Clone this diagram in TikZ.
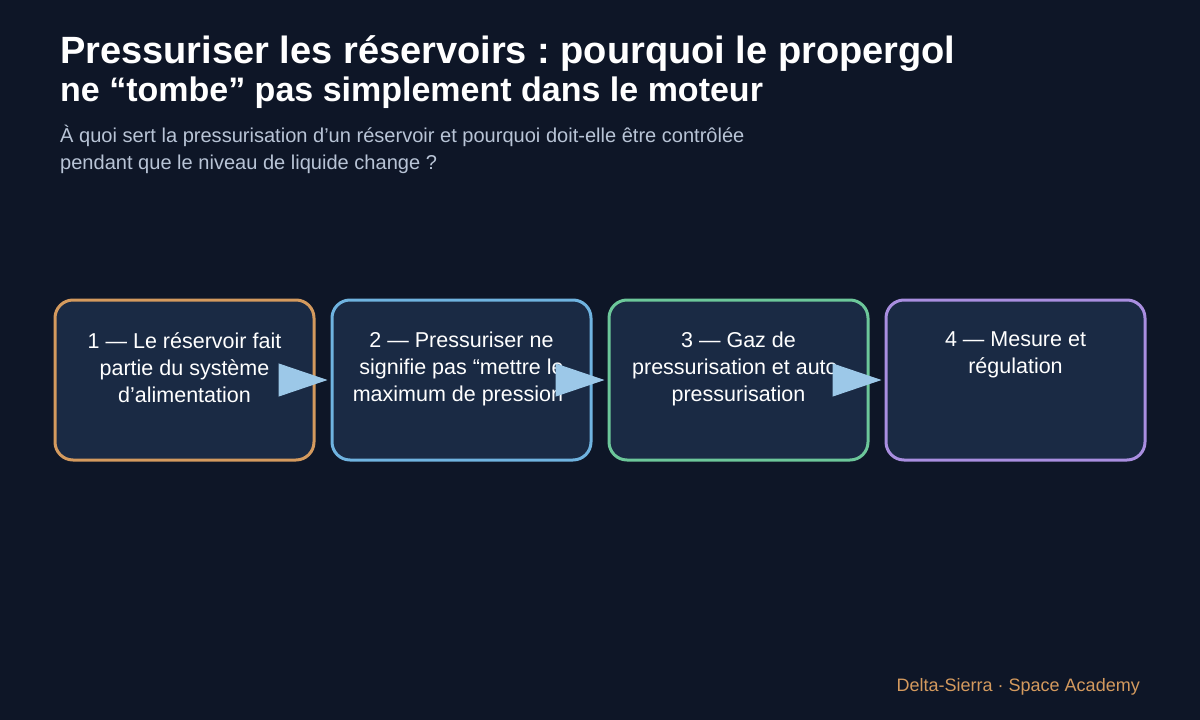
\documentclass[tikz,border=0pt]{standalone}
\usepackage{fontspec}
\setmainfont{Liberation Sans}
\usetikzlibrary{arrows.meta,positioning}
\frenchspacing
\definecolor{bg}{HTML}{0E1627}
\definecolor{boxfill}{HTML}{1A2A44}
\definecolor{cOrange}{HTML}{D49A5E}
\definecolor{cBlue}{HTML}{6FB3E0}
\definecolor{cGreen}{HTML}{6CC79A}
\definecolor{cPurple}{HTML}{A98EE0}
\definecolor{arrowc}{HTML}{9CC8E8}
\definecolor{subc}{HTML}{B8C4D6}
\definecolor{footc}{HTML}{D49A5E}
\tikzset{
  stepbox/.style={draw, line width=3pt, fill=boxfill, rounded corners=18pt,
    minimum width=259pt, minimum height=160pt, inner sep=0pt},
  boxtext/.style={text=white, align=center, font=\fontsize{21.5}{27}\selectfont,
    anchor=north, inner sep=0pt},
  flowarrow/.style={draw=arrowc, line width=1pt,
    -{Triangle[length=49pt,width=33pt,fill=arrowc]}, shorten >=3pt}
}
\begin{document}
\begin{tikzpicture}[x=1pt,y=-1pt]
\fill[bg] (0,0) rectangle (1200,720);
\useasboundingbox (0,0) rectangle (1200,720);
% title
\node[anchor=base west, text=white, inner sep=0pt, font=\bfseries\fontsize{38}{40}\selectfont] (t1) at (60,63) {Pressuriser les réservoirs : pourquoi le propergol};
\node[anchor=base west, text=white, inner sep=0pt, font=\bfseries\fontsize{34}{36}\selectfont] (t2) at (60,101) {ne “tombe” pas simplement dans le moteur};
\node[anchor=base west, text=subc, inner sep=0pt, font=\fontsize{20.05}{24}\selectfont] (s1) at (60,142) {À quoi sert la pressurisation d’un réservoir et pourquoi doit-elle être contrôlée};
\node[anchor=base west, text=subc, inner sep=0pt, font=\fontsize{20.05}{24}\selectfont] (s2) at (60,169) {pendant que le niveau de liquide change ?};
% boxes
\node[stepbox, draw=cOrange] (b1) at (184.5,380) {};
\node[stepbox, draw=cBlue] (b2) at (461.5,380) {};
\node[stepbox, draw=cGreen] (b3) at (738.5,380) {};
\node[stepbox, draw=cPurple] (b4) at (1015.5,380) {};
\node[boxtext] (x1) at (184.5,332) {1 — Le réservoir fait\\partie du système\\d’alimentation};
\node[boxtext] (x2) at (461.5,332) {2 — Pressuriser ne\\signifie pas “mettre le\\maximum de pression”};
\node[boxtext] (x3) at (738.5,332) {3 — Gaz de\\pressurisation et auto-\\pressurisation};
\node[boxtext] (x4) at (1015.5,332) {4 — Mesure et\\régulation};
% arrows
\draw[flowarrow] (b1.east) -- (b2.west);
\draw[flowarrow] (b2.east) -- (b3.west);
\draw[flowarrow] (b3.east) -- (b4.west);
% footer
\node[anchor=base east, text=footc, inner sep=0pt, font=\fontsize{18}{22}\selectfont] (f) at (1140,691) {Delta-Sierra · Space Academy};
\end{tikzpicture}
\end{document}
